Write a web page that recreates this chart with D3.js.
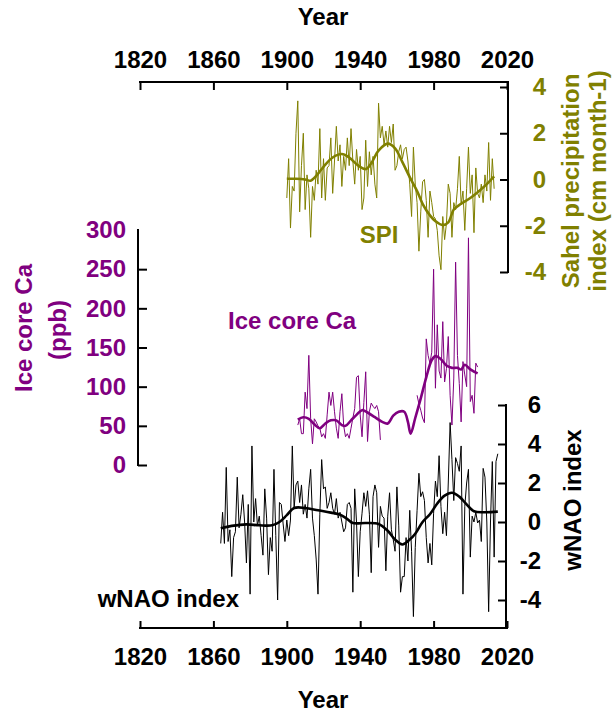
<!DOCTYPE html>
<html>
<head>
<meta charset="utf-8">
<script src="https://cdn.jsdelivr.net/npm/d3@7"></script>
<style>
  html, body { margin: 0; padding: 0; background: #fff; }
  svg { display: block; font-family: "Liberation Sans", Arial, sans-serif; font-weight: bold; }
</style>
</head>
<body>
<svg id="chart" width="612" height="714"></svg>
<script>
// Sahel precipitation index (annual), 1900-2013
const spiStart = 1900;
const spiValues = [
  -0.8, 0.9, -2.1, -0.3, -0.5, 2.0, 3.4, -1.4, 0.6, 2.0,
  -1.3, 0.2, -0.4, -2.5, -0.3, -0.9, 0.4, -0.2, 2.2, -0.8,
  0.9, -0.9, 0.5, 0.6, 1.8, -0.6, 0.8, 2.3, 0.8, 1.5,
  -0.3, 1.0, 0.4, 1.8, 0.6, 2.2, 0.8, -0.2, 1.3, 0.4,
  1.0, -1.3, -0.8, 1.7, -0.3, 1.2, 0.2, 1.0, -0.2, -0.8,
  3.3, 1.8, 2.3, 1.5, 2.1, 1.4, 2.3, 1.6, 2.4, 0.4,
  0.6, 1.2, 1.5, 0.9, 1.3, 1.4, 0.8, -0.2, -1.6, 1.4,
  -0.2, -1.0, -3.1, -1.4, -0.1, 0.0, -0.9, -2.5, -0.5, -1.0,
  -1.6, -1.7, -2.2, -3.3, -3.9, -1.6, -2.6, -1.9, -0.2, -0.6,
  -2.5, -1.0, -1.3, -0.4, 1.0, -1.1, -0.5, -2.2, -0.4, 1.4,
  -0.6, 0.2, -2.3, 0.5, -0.6, -0.8, -0.2, -1.0, 0.2, -0.5,
  1.6, -0.9, 0.9, -0.4
];
// Smoothed SPI
const spiSmoothYears = [1900, 1905, 1910, 1913, 1916, 1920, 1925, 1930, 1934, 1939, 1943, 1946, 1950, 1955, 1959, 1963, 1967, 1971, 1974, 1978, 1981, 1985, 1988, 1991, 1995, 2000, 2004, 2009, 2013];
const spiSmoothValues = [0.03, 0.03, 0.0, -0.05, 0.15, 0.55, 0.95, 1.1, 0.95, 0.6, 0.45, 0.7, 1.25, 1.55, 1.35, 0.75, 0.1, -0.5, -1.05, -1.55, -1.8, -1.97, -1.85, -1.3, -1.05, -0.8, -0.55, -0.2, 0.13];

// Ice core Ca (ppb), two record segments
const caStartA = 1906;
const caValuesA = [
  51, 59, 40, 40, 93, 72, 140, 59, 27, 59,
  55, 50, 47, 36, 40, 34, 64, 93, 76, 93,
  68, 47, 34, 68, 91, 50, 36, 40, 34, 47,
  60, 72, 112, 114, 64, 36, 80, 119, 30, 68,
  79, 75, 72, 76, 68, 32
];
const caStartB = 1971;
const caValuesB = [
  89, 78, 70, 60, 54, 161, 140, 130, 144, 250,
  98, 179, 120, 111, 183, 106, 123, 164, 89, 51,
  111, 259, 140, 104, 55, 132, 115, 100, 290, 81,
  89, 66, 130, 125
];
// Smoothed Ca
const caSmoothYears = [1906, 1909, 1912, 1915, 1918, 1921, 1924, 1927, 1930, 1932, 1935, 1938, 1941, 1944, 1948, 1952, 1955, 1958, 1961, 1964, 1966, 1967.5, 1970, 1973, 1976, 1979, 1981, 1984, 1987, 1990, 1993, 1995, 1997, 2000, 2004];
const caSmoothValues = [58, 61, 59, 52, 47, 53, 57, 57, 51, 50, 57, 64, 70, 67, 61, 55, 53, 63, 68, 68, 55, 40, 60, 85, 112, 134, 139, 135, 127, 124, 124, 122, 128, 122, 117];

// Winter NAO index, 1864-2015
const naoStart = 1864;
const naoValues = [
  -1.1, 0.5, -1.1, 2.8, -1.0, -0.4, -2.8, -0.8, -0.5, 2.3,
  -0.3, 0.4, 1.4, 0.0, -2.1, 0.9, -3.7, 3.9, 0.0, 1.2,
  -0.2, 0.3, -0.7, -1.7, 1.7, 0.2, -2.7, -0.8, -1.5, 2.7,
  -0.7, -4.0, 1.0, 0.9, -0.1, -1.0, 0.1, -0.7, 0.1, 3.9,
  0.7, 1.9, 2.1, 1.0, 1.9, 0.4, 0.9, 0.2, 1.7, 2.7,
  0.2, -0.7, -1.9, -3.7, 0.4, 3.2, 1.7, 1.8, 0.7, 1.0,
  1.5, 0.7, 0.4, 1.2, 0.2, 0.5, 0.0, -0.5, -0.3, 0.9,
  1.0, 0.7, -3.6, 1.7, 0.0, -2.8, -0.5, 0.45, 1.5, 0.8,
  1.6, 0.4, -2.6, 1.3, 1.9, 1.5, -1.3, 0.8, 0.3, 0.2,
  -2.5, 0.3, 1.5, -0.4, -0.9, -1.5, 1.8, -0.2, -3.6, -2.8,
  -2.8, -0.8, -2.0, 0.6, -1.5, -4.85, -1.3, 0.6, 2.5, 1.3,
  1.55, 1.1, -0.8, -2.1, -1.1, -2.2, 0.45, 2.1, 1.3, 3.4,
  0.8, -0.6, 0.5, -0.7, 2.0, 5.1, 3.2, 1.1, 3.3, 3.0,
  2.6, 3.9, -3.7, 0.8, 2.0, 2.7, -1.8, 0.3, 0.0, 0.5,
  -0.05, 0.1, -1.0, 2.75, 2.3, 0.0, -4.6, 0.0, 3.1, -1.8,
  3.1, 3.5
];
// Smoothed wNAO
const naoSmoothYears = [1864, 1870, 1878, 1885, 1892, 1896, 1900, 1904, 1910, 1917, 1924, 1929, 1933, 1936, 1943, 1950, 1955, 1959, 1963, 1967, 1970, 1974, 1978, 1982, 1986, 1990, 1994, 1998, 2002, 2008, 2015];
const naoSmoothValues = [-0.32, -0.2, -0.12, -0.17, -0.17, 0.0, 0.35, 0.72, 0.72, 0.6, 0.48, 0.38, 0.15, -0.05, -0.05, -0.1, -0.45, -0.9, -1.15, -0.9, -0.6, 0.0, 0.4, 0.95, 1.35, 1.5, 1.3, 0.9, 0.55, 0.5, 0.53];

// Axis ticks
const yearTicks = [1820, 1860, 1900, 1940, 1980, 2020];
const spiTicks = [-4, -2, 0, 2, 4];
const caTicks = [0, 50, 100, 150, 200, 250, 300];
const naoTicks = [-4, -2, 0, 2, 4, 6];

const OLIVE = "#808000";
const PURPLE = "#800080";
const FONT = 24;

const svg = d3.select("#chart");

const x = d3.scaleLinear().domain([1820, 2020]).range([140, 507]);
const ySpi = d3.scaleLinear().domain([-4, 4]).range([272, 87]);
const yCa = d3.scaleLinear().domain([0, 300]).range([465, 230]);
const yNao = d3.scaleLinear().domain([-4, 6]).range([600, 405]);

const topAxisY = 82, bottomAxisY = 628;

// plain hyphen for negative tick labels
const fmtInt = d => (d < 0 ? "-" : "") + Math.abs(d);

const series = (start, vals) => vals.map((v, i) => ({ year: start + i, v }));
const pairs = (ys, vs) => ys.map((yr, i) => ({ year: yr, v: vs[i] }));

function drawLine(data, yScale, color, width, curve) {
  const gen = d3.line().x(d => x(d.year)).y(d => yScale(d.v));
  if (curve) gen.curve(curve);
  svg.append("path").datum(data)
    .attr("fill", "none").attr("stroke", color)
    .attr("stroke-width", width).attr("stroke-linejoin", "round")
    .attr("d", gen);
}

function styleAxis(g, color) {
  g.selectAll("text").attr("font-size", FONT).attr("font-weight", "bold")
    .attr("font-family", "Liberation Sans, Arial, sans-serif").attr("fill", color);
  g.selectAll("line").attr("stroke", "#000").attr("stroke-width", 2);
  g.select(".domain").remove();
}

// ---- data lines ----
drawLine(series(spiStart, spiValues), ySpi, OLIVE, 1, null);
drawLine(pairs(spiSmoothYears, spiSmoothValues), ySpi, OLIVE, 2.6, d3.curveCatmullRom);

drawLine(series(naoStart, naoValues), yNao, "#000", 1, null);
drawLine(pairs(naoSmoothYears, naoSmoothValues), yNao, "#000", 2.6, d3.curveCatmullRom);

drawLine(series(caStartA, caValuesA), yCa, PURPLE, 1, null);
drawLine(series(caStartB, caValuesB), yCa, PURPLE, 1, null);
drawLine(pairs(caSmoothYears, caSmoothValues), yCa, PURPLE, 2.6, d3.curveCatmullRom);

// ---- axes ----
const gTop = svg.append("g").attr("transform", `translate(0,${topAxisY})`)
  .call(d3.axisTop(x).tickValues(yearTicks).tickFormat(d3.format("d")).tickSize(-8).tickPadding(14));
styleAxis(gTop, "#000");

const gBottom = svg.append("g").attr("transform", `translate(0,${bottomAxisY})`)
  .call(d3.axisBottom(x).tickValues(yearTicks).tickFormat(d3.format("d")).tickSize(-7).tickPadding(20));
styleAxis(gBottom, "#000");

const gSpi = svg.append("g").attr("transform", `translate(${x(2020) + 1},0)`)
  .call(d3.axisRight(ySpi).tickValues(spiTicks).tickFormat(fmtInt).tickSize(-8).tickPadding(14));
styleAxis(gSpi, OLIVE);
gSpi.selectAll("text").attr("text-anchor", "end").attr("x", 38);

const gCa = svg.append("g").attr("transform", `translate(${x(1820) - 2},0)`)
  .call(d3.axisLeft(yCa).tickValues(caTicks).tickFormat(fmtInt).tickSize(-9).tickPadding(12));
styleAxis(gCa, PURPLE);
gCa.selectAll(".tick").filter(d => d === 300).select("line").remove();

const gNao = svg.append("g").attr("transform", `translate(${x(2020) - 1},0)`)
  .call(d3.axisRight(yNao).tickValues(naoTicks).tickFormat(fmtInt).tickSize(-8).tickPadding(14));
styleAxis(gNao, "#000");
gNao.selectAll("text").attr("text-anchor", "end").attr("x", 35);

// axis spines
const spine = (x1, y1, x2, y2) => svg.append("line")
  .attr("x1", x1).attr("y1", y1).attr("x2", x2).attr("y2", y2)
  .attr("stroke", "#000").attr("stroke-width", 2).attr("stroke-linecap", "square");
spine(x(1820), topAxisY, x(2020), topAxisY);
spine(x(1820), bottomAxisY, x(2020), bottomAxisY);
spine(x(2020) + 1, topAxisY, x(2020) + 1, ySpi(-4));
spine(x(1820) - 2, yCa(300), x(1820) - 2, yCa(0));
spine(x(2020) - 1, yNao(6), x(2020) - 1, bottomAxisY);

// ---- titles and labels ----
function label(txt, px, py, color, anchor, rotate) {
  const t = svg.append("text").text(txt)
    .attr("font-size", FONT).attr("font-weight", "bold").attr("fill", color)
    .attr("text-anchor", anchor || "start");
  if (rotate) {
    t.attr("transform", `translate(${px},${py}) rotate(-90)`).attr("dy", "0.35em");
  } else {
    t.attr("x", px).attr("y", py);
  }
  return t;
}

label("Year", 323, 25, "#000", "middle");
label("Year", 323, 708, "#000", "middle");

label("Sahel precipitation", 571, 181, OLIVE, "middle", true);
label("index (cm month-1)", 598, 181, OLIVE, "middle", true);
label("wNAO index", 573, 500, "#000", "middle", true);
label("Ice core Ca", 24, 328, PURPLE, "middle", true);
label("(ppb)", 58, 330, PURPLE, "middle", true);

label("SPI", 379, 243, OLIVE, "middle");
label("Ice core Ca", 228, 329, PURPLE, "start");
label("wNAO index", 239, 607, "#000", "end");
</script>
</body>
</html>
